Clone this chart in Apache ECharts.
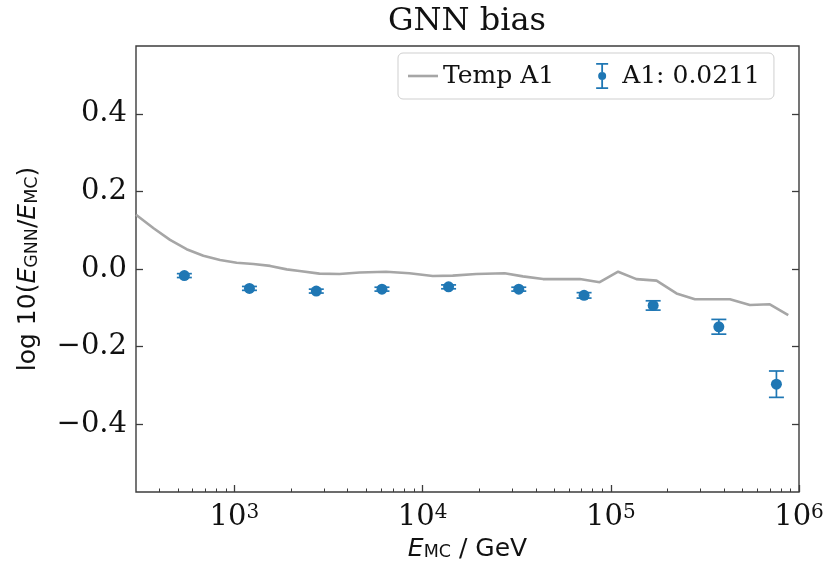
<!DOCTYPE html>
<html><head><meta charset="utf-8">
<script src="https://cdn.jsdelivr.net/npm/echarts@6/dist/echarts.min.js"></script>
<style>html,body{margin:0;padding:0;background:#fff}#c{width:830px;height:564px}</style>
</head><body><div id="c"></div>
<script>
// Temp A1 curve: energy (GeV) and bias
const tempEnergy = [300, 372, 455, 557, 684, 839, 1028, 1262, 1549, 1897, 2218, 2831, 3614, 4624, 6397, 8511, 11324, 14454, 19275, 27290, 34119, 43652, 68391, 87297, 109400, 136800, 175000, 223400, 279900, 429500, 548300, 699800, 877000];
const tempBias   = [0.140, 0.105, 0.075, 0.051, 0.034, 0.023, 0.016, 0.013, 0.008, -0.001, -0.005, -0.012, -0.013, -0.009, -0.007, -0.011, -0.018, -0.017, -0.013, -0.011, -0.019, -0.026, -0.026, -0.034, -0.007, -0.026, -0.030, -0.063, -0.078, -0.078, -0.093, -0.091, -0.119];
// A1 points with error bars
const ptEnergy = [542, 1202, 2723, 6081, 13740, 32430, 72110, 167900, 375000, 758600];
const ptBias   = [-0.017, -0.050, -0.057, -0.052, -0.046, -0.052, -0.068, -0.094, -0.149, -0.297];
const ptErr    = [0.005, 0.005, 0.005, 0.005, 0.005, 0.005, 0.007, 0.012, 0.019, 0.034];
// axes
const xMinE = 300, xMaxE = 1e6;
const yMin = -0.575, yMax = 0.575;
const xTickExps = [3, 4, 5, 6];
const yTickValues = [-0.4, -0.2, 0, 0.2, 0.4];
const yTickLabels = ['\u22120.4', '\u22120.2', '0.0', '0.2', '0.4'];
const titleText = 'GNN bias';
const lineName = 'Temp A1';
const ptName = 'A1: 0.0211';

const BLUE = '#1f77b4', GRAY = '#a6a6a6', FRAME = '#3c3c3c', TXT = '#111';
const SERIF = '"DejaVu Serif", serif', SANS = '"DejaVu Sans", sans-serif';

const lx0 = Math.log10(xMinE), lx1 = Math.log10(xMaxE);
const minorTicks = [];
for (let n = 2; n <= 5; n++) for (let k = 2; k <= 9; k++) {
  const v = n + Math.log10(k);
  if (v > lx0 && v < lx1) minorTicks.push(v);
}
const yLabelMap = {};
yTickValues.forEach((v, i) => yLabelMap[v.toFixed(1)] = yTickLabels[i]);

const lineData = tempEnergy.map((e, i) => [Math.log10(e), tempBias[i]]);
const ptData = ptEnergy.map((e, i) => [Math.log10(e), ptBias[i]]);
const errData = ptEnergy.map((e, i) => [Math.log10(e), ptBias[i] - ptErr[i], ptBias[i] + ptErr[i]]);

const gridPos = {left: 136, right: 31, top: 46, bottom: 72, outerBoundsMode: 'none', containLabel: false};
const chart = echarts.init(document.getElementById('c'), null, {renderer: 'canvas'});
const errIcon = 'path://M0,0H12V1.8H0Z M0,24.2H12V26H0Z M5.1,1H6.9V9H5.1Z M5.1,17H6.9V25H5.1Z M2,13A4,4 0 1 1 10,13A4,4 0 1 1 2,13Z';
const lineIcon = 'path://M0,0H30V2.6H0Z';

chart.setOption({
  animation: false,
  backgroundColor: '#fff',
  grid: [
    Object.assign({show: true, borderColor: FRAME, borderWidth: 1.4, backgroundColor: 'transparent'}, gridPos),
    Object.assign({show: false}, gridPos)
  ],
  graphic: [{
    type: 'text', x: 467, y: 6, z: 10,
    style: {text: titleText, font: '32px ' + SERIF, fill: TXT, textAlign: 'center', textVerticalAlign: 'top'}
  }],
  legend: {
    left: 398, top: 53, orient: 'horizontal',
    padding: [10, 14, 10, 10], itemGap: 42, itemWidth: 30, itemHeight: 26,
    borderColor: '#cfcfcf', borderWidth: 1, borderRadius: 5, backgroundColor: '#fff',
    textStyle: {fontFamily: SERIF, fontSize: 25, color: TXT},
    data: [{name: lineName, icon: lineIcon, itemStyle: {color: GRAY}}, {name: ptName, icon: errIcon, itemStyle: {color: BLUE}}],
    selectedMode: false
  },
  xAxis: [{
    type: 'value', gridIndex: 0, min: lx0, max: lx1, position: 'bottom',
    axisLine: {show: false, onZero: false},
    splitLine: {show: false},
    axisTick: {show: true, inside: true, length: 7, customValues: xTickExps, lineStyle: {color: FRAME, width: 1.3}},
    axisLabel: {
      customValues: xTickExps, margin: 11, color: TXT,
      formatter: v => '{b|10}{s|' + Math.round(v) + '}',
      rich: {
        b: {fontFamily: SERIF, fontSize: 29, lineHeight: 34, verticalAlign: 'top', color: TXT},
        s: {fontFamily: SERIF, fontSize: 20, lineHeight: 18, verticalAlign: 'top', color: TXT}
      }
    },
    name: '{i|E}{sub|MC}{n| / GeV}', nameLocation: 'middle', nameGap: 39,
    nameTextStyle: {
      rich: {
        i: {fontFamily: SANS, fontStyle: 'italic', fontSize: 25, lineHeight: 30, verticalAlign: 'bottom', color: TXT},
        sub: {fontFamily: SANS, fontSize: 17.5, lineHeight: 17, verticalAlign: 'bottom', color: TXT},
        n: {fontFamily: SANS, fontSize: 25, lineHeight: 30, verticalAlign: 'bottom', color: TXT}
      }
    }
  }, {
    type: 'value', gridIndex: 1, min: lx0, max: lx1, position: 'bottom',
    axisLine: {show: false, onZero: false}, splitLine: {show: false}, axisLabel: {show: false},
    axisTick: {show: true, inside: true, length: 3.5, customValues: minorTicks, lineStyle: {color: FRAME, width: 1}}
  }],
  yAxis: [{
    type: 'value', gridIndex: 0, min: yMin, max: yMax, position: 'left',
    axisLine: {show: false, onZero: false}, splitLine: {show: false},
    axisTick: {show: true, inside: true, length: 7, customValues: yTickValues, lineStyle: {color: FRAME, width: 1.3}},
    axisLabel: {
      customValues: yTickValues, margin: 9, color: TXT, fontFamily: SERIF, fontSize: 29,
      formatter: v => yLabelMap[(Math.round(v * 10) / 10).toFixed(1)] || ''
    },
    name: '{n|log 10(}{i|E}{sub|GNN}{n|/}{i|E}{sub|MC}{n|)}', nameLocation: 'middle', nameGap: 95, nameRotate: 90,
    nameTextStyle: {
      rich: {
        i: {fontFamily: SANS, fontStyle: 'italic', fontSize: 25, lineHeight: 30, verticalAlign: 'bottom', color: TXT},
        sub: {fontFamily: SANS, fontSize: 17.5, lineHeight: 17, verticalAlign: 'bottom', color: TXT},
        n: {fontFamily: SANS, fontSize: 25, lineHeight: 30, verticalAlign: 'bottom', color: TXT}
      }
    }
  }, {
    type: 'value', gridIndex: 0, min: yMin, max: yMax, position: 'right',
    axisLine: {show: false, onZero: false}, splitLine: {show: false}, axisLabel: {show: false},
    axisTick: {show: true, inside: true, length: 7, customValues: yTickValues, lineStyle: {color: FRAME, width: 1.3}}
  }, {
    type: 'value', gridIndex: 1, min: yMin, max: yMax, show: false
  }],
  series: [{
    name: lineName, type: 'line', xAxisIndex: 0, yAxisIndex: 0,
    data: lineData, showSymbol: false, symbol: 'none', clip: true,
    lineStyle: {color: GRAY, width: 2.6}, itemStyle: {color: GRAY}, z: 2
  }, {
    name: 'err', type: 'custom', xAxisIndex: 0, yAxisIndex: 0, data: errData,
    encode: {x: 0, y: [1, 2]}, z: 3,
    renderItem: function (params, api) {
      const x = api.value(0);
      const pLo = api.coord([x, api.value(1)]);
      const pHi = api.coord([x, api.value(2)]);
      const hw = 7.5;
      const st = {stroke: BLUE, lineWidth: 1.7};
      return {type: 'group', children: [
        {type: 'line', shape: {x1: pLo[0], y1: pLo[1], x2: pHi[0], y2: pHi[1]}, style: st},
        {type: 'line', shape: {x1: pLo[0] - hw, y1: pLo[1], x2: pLo[0] + hw, y2: pLo[1]}, style: st},
        {type: 'line', shape: {x1: pHi[0] - hw, y1: pHi[1], x2: pHi[0] + hw, y2: pHi[1]}, style: st}
      ]};
    }
  }, {
    name: ptName, type: 'scatter', xAxisIndex: 0, yAxisIndex: 0,
    data: ptData, symbol: 'circle', symbolSize: 11,
    itemStyle: {color: BLUE, opacity: 1}, z: 4
  }]
});
</script>
</body></html>
